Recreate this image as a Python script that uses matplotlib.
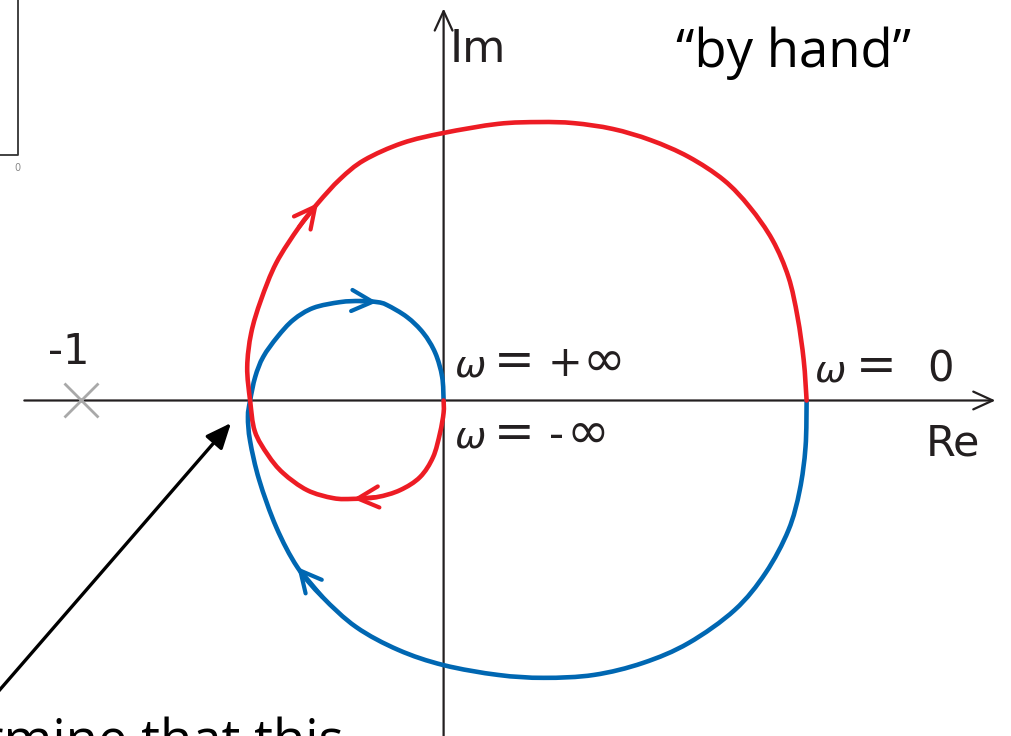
import matplotlib
matplotlib.use("Agg")
import numpy as np
import matplotlib.pyplot as plt
from matplotlib.path import Path
from matplotlib.patches import PathPatch

# Nyquist contour of the open-loop transfer function, sketched by hand.
# Positive-frequency branch (red): from the origin, round the small loop
# below the real axis, through the real-axis crossing and over the top to w = 0.
red_re = [0.000, 0.000, -0.010, -0.029, -0.065, -0.120, -0.183, -0.249, -0.304,
          -0.376, -0.442, -0.484, -0.520, -0.533,
          -0.541, -0.530, -0.503, -0.461, -0.398, -0.346, -0.285, -0.219, -0.114,
          0.000, 0.150, 0.265, 0.359, 0.466, 0.571, 0.675, 0.772, 0.843, 0.906,
          0.950, 0.975, 0.992, 1.000]
red_im = [0.000, -0.034, -0.090, -0.156, -0.211, -0.247, -0.266, -0.271, -0.269,
          -0.247, -0.200, -0.150, -0.085, 0.000,
          0.092, 0.186, 0.277, 0.379, 0.478, 0.544, 0.610, 0.662, 0.709,
          0.737, 0.762, 0.767, 0.764, 0.748, 0.717, 0.671, 0.607, 0.533, 0.442,
          0.340, 0.230, 0.111, 0.000]

# Negative-frequency branch (blue): from w = 0 under the bottom, back through
# the crossing and round the small loop above the real axis into the origin.
blue_re = [1.000, 0.997, 0.981, 0.950, 0.887, 0.802, 0.675, 0.549, 0.414, 0.276,
           0.150, 0.000, -0.125, -0.241, -0.334, -0.403, -0.461, -0.508, -0.533,
           -0.539, -0.533,
           -0.519, -0.497, -0.458, -0.414, -0.359, -0.285, -0.230, -0.183, -0.156,
           -0.101, -0.056, -0.023, -0.004, 0.000]
blue_im = [0.000, -0.128, -0.247, -0.357, -0.475, -0.577, -0.668, -0.723, -0.756,
           -0.764, -0.756, -0.729, -0.687, -0.624, -0.541, -0.459, -0.349, -0.219,
           -0.112, -0.045, 0.000,
           0.065, 0.120, 0.175, 0.222, 0.255, 0.271, 0.274, 0.271, 0.263,
           0.230, 0.186, 0.131, 0.065, 0.000]

# Direction arrows: drawn from point i-1 to point i of each branch
red_arrow_idx = [7, 19]
blue_arrow_idx = [15, 28]

critical_re, critical_im = -1.0, 0.0

RED = "#ED1C24"
BLUE = "#0067B2"
INK = "#231F20"
GREY = "#A9A9A9"

W, H = 1011, 736
fig = plt.figure(figsize=(W / 100, H / 100), dpi=100)
ax = fig.add_axes([0, 0, 1, 1])
ax.set_xlim(-1.222, 1.563)
ax.set_ylim(-0.924, 1.103)
ax.set_aspect("equal")
ax.axis("off")


def fpx(x, y):
    """Figure-fraction position from pixel offsets measured from the top left."""
    return x / W, 1 - y / H


def smooth_path(xs, ys):
    """Catmull-Rom curve through every point, written as cubic Bezier segments."""
    p = np.column_stack([xs, ys])
    ext = np.vstack([p[0], p, p[-1]])
    verts = [p[0]]
    codes = [Path.MOVETO]
    for i in range(len(p) - 1):
        a, b, c, d = ext[i], ext[i + 1], ext[i + 2], ext[i + 3]
        verts += [b + (c - a) / 6, c - (d - b) / 6, c]
        codes += [Path.CURVE4] * 3
    return Path(verts, codes)


# Real and imaginary axes
axis_arrow = dict(arrowstyle="->,head_length=0.7,head_width=0.32", lw=1.6,
                  color=INK, shrinkA=0, shrinkB=0, mutation_scale=20)
ax.annotate("", xy=(1.520, 0), xytext=(-1.155, 0), arrowprops=axis_arrow, zorder=1)
ax.annotate("", xy=(0, 1.080), xytext=(0, -0.95), arrowprops=axis_arrow, zorder=1)

# Critical point -1
ax.plot(critical_re, critical_im, marker="x", ms=24, mew=2.0, color=GREY, zorder=3)

# Contour branches
for xs, ys, col in ((blue_re, blue_im, BLUE), (red_re, red_im, RED)):
    ax.add_patch(PathPatch(smooth_path(xs, ys), fill=False, edgecolor=col,
                           lw=3.3, capstyle="round", joinstyle="round", zorder=4))

head = dict(arrowstyle="->,head_length=0.75,head_width=0.38", lw=3.0,
            shrinkA=0, shrinkB=0, mutation_scale=20)
for xs, ys, col, idx in ((red_re, red_im, RED, red_arrow_idx),
                         (blue_re, blue_im, BLUE, blue_arrow_idx)):
    for i in idx:
        ax.annotate("", xy=(xs[i], ys[i]), xytext=(xs[i - 1], ys[i - 1]),
                    arrowprops=dict(head, color=col), zorder=5)

# Labels
lab = dict(color=INK, family="DejaVu Sans", transform=fig.transFigure)
fig.text(*fpx(69, 364), "-1", fontsize=30, ha="center", va="baseline", **lab)
fig.text(*fpx(450, 62), "Im", fontsize=32, ha="left", va="baseline", **lab)
fig.text(*fpx(926, 455), "Re", fontsize=31, ha="left", va="baseline", **lab)


def omega_label(base, parts):
    for x, s, size, style in parts:
        fig.text(*fpx(x, base), s, fontsize=size, style=style, ha="left",
                 va="baseline", **lab)


omega_label(376, [(455, "\u03c9", 27, "italic"), (494, "=", 35, "normal"),
                  (548, "+", 30, "normal"), (582, "\u221e", 37, "normal")])
omega_label(448, [(455, "\u03c9", 27, "italic"), (494, "=", 35, "normal"),
                  (549, "-", 30, "normal"), (566, "\u221e", 37, "normal")])
omega_label(381, [(815, "\u03c9", 27, "italic"), (856, "=", 35, "normal"),
                  (927, "0", 30, "normal")])

fig.text(*fpx(793, 67), "\u201cby hand\u201d", fontsize=38, family="Open Sans",
         ha="center", va="baseline", color="black")
fig.text(*fpx(344, 757), "determine that this", fontsize=38, family="Open Sans",
         ha="right", va="baseline", color="black")

# Pointer to the real-axis crossing
ax.annotate("", xy=fpx(231, 423), xytext=fpx(-3, 693),
            xycoords="figure fraction", textcoords="figure fraction",
            arrowprops=dict(arrowstyle="-|>,head_length=0.7,head_width=0.3",
                            lw=2.4, color="black", shrinkA=0, shrinkB=0,
                            mutation_scale=22), zorder=6)

# Edge of the neighbouring panel
fig.add_artist(plt.Line2D([18 / W, 18 / W, 0], [1, 1 - 155 / H, 1 - 155 / H],
                          transform=fig.transFigure, color="#333333", lw=1.3))
fig.text(*fpx(17, 171), "0", fontsize=7, color="#888888", ha="center",
         va="baseline", transform=fig.transFigure)

fig.savefig("out.png", dpi=100)
